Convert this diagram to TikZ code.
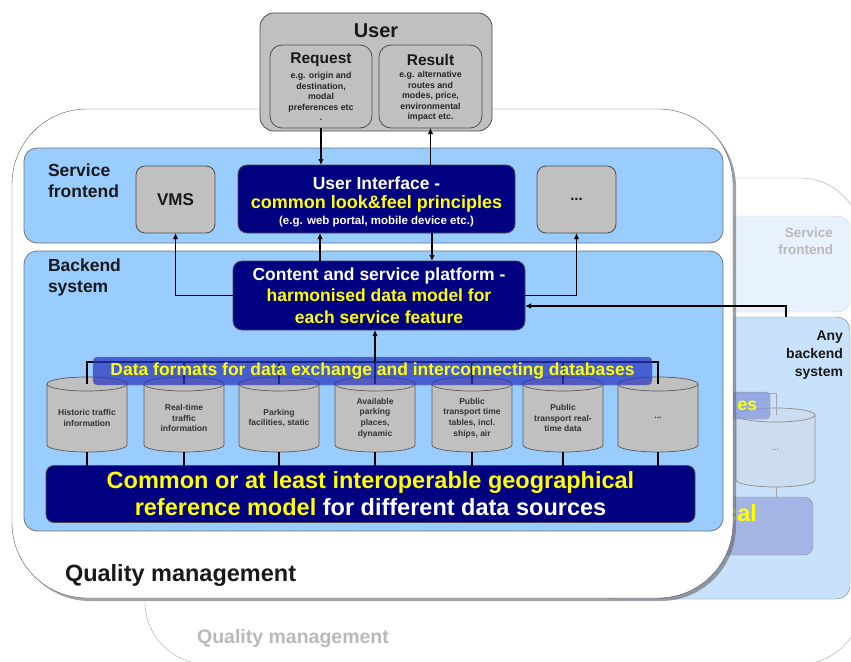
\documentclass[tikz,border=0pt]{standalone}
\usepackage{fontspec}
\setmainfont{Liberation Sans}
\usetikzlibrary{arrows.meta,shadows}
\definecolor{lblue}{RGB}{153,204,255}
\definecolor{navy}{RGB}{0,0,128}
\definecolor{yel}{RGB}{255,255,0}
\definecolor{bgray}{RGB}{192,192,192}
\definecolor{backblue}{RGB}{200,226,251}
\definecolor{backfront}{RGB}{232,242,254}
\definecolor{fadegeo}{RGB}{164,180,228}
\definecolor{fadecyl}{RGB}{205,221,240}
\definecolor{fadebar}{RGB}{140,156,222}
\definecolor{barblue}{RGB}{40,52,192}
\definecolor{fadetext}{RGB}{185,185,185}
\newcommand\myfs[2]{\fontsize{#1}{#2}\selectfont\bfseries}
\begin{document}
\begin{tikzpicture}[x=1pt,y=-1pt,
  every node/.style={inner sep=0pt, outer sep=0pt},
  gbox/.style={draw=black!70, fill=bgray, rounded corners=9pt, line width=0.8pt},
  nbox/.style={draw=black!70, fill=navy, rounded corners=9pt, line width=0.8pt},
  bluebox/.style={draw=black!55, fill=lblue, rounded corners=13pt, line width=0.8pt},
  arr/.style={line width=1.8pt, -{Latex[length=6pt,width=5.5pt]}},
  bus/.style={line width=1.6pt},
  cyl/.style={draw=black!65, fill=bgray, line width=0.7pt},
  fcyl/.style={draw=black!45, fill=fadecyl, line width=0.7pt},
  cyltext/.style={align=center, text=black!80, font=\myfs{8.5}{10.8}},
]
\useasboundingbox (0,0) rectangle (851,661);
\fill[white] (0,0) rectangle (851,661);

% ---------- background (faded) system ----------
\node[draw=black!35, fill=white, rounded corners=62pt, minimum width=717, minimum height=486] (backframe) at (503.5,421) {};
\node[draw=black!18, fill=backfront, rounded corners=13pt, minimum width=250, minimum height=96] (backsf) at (725,264) {};
\node[draw=black!50, fill=backblue, rounded corners=13pt, minimum width=250, minimum height=282] (backbe) at (725,458) {};
\node[anchor=east, align=right, text=fadetext, font=\myfs{13.5}{17}] (backsflbl) at (833,241) {Service\\frontend};
\node[anchor=east, align=right, text=black!90, font=\myfs{14}{18}] (anylbl) at (843,355) {Any\\backend\\system};
\node[anchor=center, text=fadetext, font=\myfs{19.5}{22}] (backqm) at (293,638) {Quality management};

% faded cylinder
\filldraw[fcyl] (736,415) -- (736,480) arc[start angle=180, end angle=0, x radius=39.5, y radius=7] -- (815,415) -- cycle;
\filldraw[fcyl] (775.5,415) ellipse[x radius=39.5, y radius=7];
\node[text=black!45, font=\myfs{8}{10}] (fcyltxt) at (775.5,450) {...};
\coordinate (fct) at (776,415);
\coordinate (fcb) at (776,487);
\coordinate (fbus) at (776,393);
\coordinate (fbusl) at (700,393);
\draw[black!35, line width=1pt] (fbusl) -- (fbus) -- (fct);
\node[draw=black!40, fill=fadebar, fill opacity=0.8, rounded corners=4pt, minimum width=70, minimum height=27] (fbar) at (735,405.5) {};
\node[anchor=east, text=yel, font=\myfs{17.5}{20}] (fbartxt) at (757,406) {es};
\node[draw=black!45, fill=fadegeo, rounded corners=9pt, minimum width=113, minimum height=58] (fgeo) at (756.5,526) {};
\draw[black!35, line width=1pt] (fcb) -- (fcb |- fgeo.north);
\node[anchor=east, text=yel, font=\myfs{23.5}{27}] (fgeotxt) at (757,513) {cal};

% ---------- front system ----------
\node[draw=black!65, fill=white, rounded corners=75pt, minimum width=721, minimum height=489,
  drop shadow={shadow xshift=3pt, shadow yshift=-3pt, fill=black!60, opacity=0.6}] (front) at (372.5,353.5) {};
\node[bluebox, minimum width=699, minimum height=95] (sf) at (373.5,195.5) {};
\node[bluebox, minimum width=699, minimum height=280] (be) at (373.5,391) {};
\node[anchor=west, align=left, text=black!90, font=\myfs{17.5}{21}] (sflbl) at (48,180.5) {Service\\frontend};
\node[anchor=west, align=left, text=black!90, font=\myfs{17.5}{21}] (belbl) at (48,277.5) {Backend\\system};
\node[anchor=west, text=black!90, font=\myfs{23.5}{27}] (qm) at (65,575) {Quality management};

% user
\node[gbox, rounded corners=14pt, minimum width=232, minimum height=118] (user) at (376,72) {};
\node[text=black!90, font=\myfs{20}{24}] (userlbl) at (376,31) {User};
\node[gbox, rounded corners=12pt, minimum width=102, minimum height=83] (req) at (321,86.5) {};
\node[gbox, rounded corners=12pt, minimum width=103, minimum height=83] (res) at (430.5,86.5) {};
\node[text=black!90, font=\myfs{15.5}{18}] (reqt) at (321,60) {Request};
\node[text=black!90, font=\myfs{15.5}{18}] (rest) at (430.5,60) {Result};
\node[align=center, text=black!85, font=\myfs{8.8}{10.6}] (reqb) at (321,96.5) {e.g. origin and\\destination,\\modal\\preferences etc\\.};
\node[align=center, text=black!85, font=\myfs{8.8}{10.6}] (resb) at (430.5,96.5) {e.g. alternative\\routes and\\modes, price,\\environmental\\impact etc.};

% frontend boxes
\node[gbox, minimum width=79, minimum height=67, text=black!90, font=\myfs{17}{20}] (vms) at (175.5,199.5) {VMS};
\node[gbox, minimum width=79, minimum height=67, text=black!90, font=\myfs{15}{18}] (dots) at (576.5,199.5) {...};
\node[nbox, minimum width=277, minimum height=68] (ui) at (376.5,199) {};
\node[text=white, font=\myfs{17.5}{20}] (uit1) at (376.5,183) {User Interface -};
\node[text=yel, font=\myfs{18}{21}] (uit2) at (376.5,204) {common look\&feel principles};
\node[text=white, font=\myfs{11.5}{13}] (uit3) at (376.5,222) {(e.g. web portal, mobile device etc.)};

% content platform
\node[nbox, minimum width=292, minimum height=69, align=center, text=yel, font=\myfs{17.5}{21.5}] (content) at (379,295.5)
  {\textcolor{white}{Content and service platform -}\\harmonised data model for\\each service feature};

% cylinders
\foreach \i/\cx/\txt in {1/87/{Historic traffic\\information},
                          2/184/{Real-time\\traffic\\information},
                          3/279/{Parking\\facilities, static},
                          4/375/{Available\\parking\\places,\\dynamic},
                          5/472/{Public\\transport time\\tables, incl.\\ships, air},
                          6/563/{Public\\transport real-\\time data},
                          7/658/{...}}{
  \filldraw[cyl] (\cx-40,384) -- (\cx-40,445) arc[start angle=180, end angle=0, x radius=40, y radius=7] -- (\cx+40,384) -- cycle;
  \filldraw[cyl] (\cx,384) ellipse[x radius=40, y radius=7];
  \node[cyltext] (cyl\i) at (\cx,418) {\txt};
  \coordinate (ct\i) at (\cx,384);
  \coordinate (cb\i) at (\cx,452);
  \coordinate (bus\i) at (\cx,362);
}
\draw[bus] (ct1) -- (bus1) -- (bus7) -- (ct7);
\foreach \i in {2,...,6} \draw[bus] (bus\i) -- (ct\i);

% data format bar
\node[draw=black!50, fill=barblue, fill opacity=0.72, text opacity=1, rounded corners=4pt,
  minimum width=559, minimum height=28, text=yel, font=\myfs{17.5}{20}] (bar) at (372.5,371)
  {Data formats for data exchange and interconnecting databases};

% geographical model
\node[nbox, rounded corners=8pt, minimum width=649, minimum height=57, align=center, text=yel, font=\myfs{23.5}{27}] (geo) at (370.5,494)
  {Common or at least interoperable geographical\\reference model \textcolor{white}{for different data sources}};
\foreach \i in {1,...,7} \draw[bus] (cb\i) -- (cb\i |- geo.north);

% arrows
\draw[arr] (req.south) -- (req.south |- ui.north);
\draw[arr] (ui.north -| res.south) -- (res.south);
\coordinate (c1) at (320,261);
\draw[arr] (c1) -- (c1 |- ui.south);
\coordinate (c2) at (432,233);
\draw[arr] (c2) -- (c2 |- content.north);
\draw[arr] (content.west) -| (vms.south);
\draw[arr] (content.east) -| (dots.south);
\coordinate (ab) at (786,317);
\coordinate (c3) at (525,306);
\draw[arr] (ab) |- (c3);
\draw[arr] (bus4) -- (bus4 |- content.south);
\end{tikzpicture}
\end{document}
